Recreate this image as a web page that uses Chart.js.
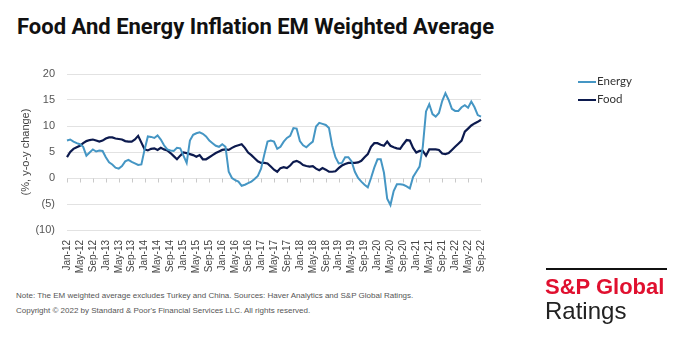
<!DOCTYPE html>
<html>
<head>
<meta charset="utf-8">
<title>Food And Energy Inflation EM Weighted Average</title>
<script src="https://cdn.jsdelivr.net/npm/chart.js@4.4.0/dist/chart.umd.min.js"></script>
<style>
  html, body { margin: 0; padding: 0; background: #fff; }
  body { width: 680px; height: 340px; position: relative; overflow: hidden; }
  h1 { position: absolute; left: 17px; top: 14px; margin: 0; font: bold 22px 'Roboto', sans-serif; color: #111; white-space: nowrap; }
  #wrap { position: absolute; left: 0; top: 50px; width: 680px; height: 230px; }
  .legend { position: absolute; left: 578px; font: 11.5px 'Lato', sans-serif; color: #333; line-height: 14px; }
  .legend i { display: inline-block; width: 18px; height: 2px; vertical-align: middle; margin-right: 1px; }
  .note { position: absolute; left: 16px; font: 8px 'Liberation Sans', sans-serif; color: #555; white-space: nowrap; }
  .rule { position: absolute; left: 546px; top: 268px; width: 121px; height: 2px; background: #111; }
  .brand { position: absolute; left: 545px; top: 274px; font: bold 22px 'Liberation Sans', sans-serif; color: #e0102f; white-space: nowrap; }
  .ratings { position: absolute; left: 545px; top: 297px; font: 24px 'Liberation Sans', sans-serif; color: #222; }
</style>
</head>
<body>
<h1>Food And Energy Inflation EM Weighted Average</h1>
<div id="wrap"><canvas id="chart"></canvas></div>
<div class="legend" style="top:74px"><i style="background:#4596c4"></i>Energy</div>
<div class="legend" style="top:92px"><i style="background:#0c1a4e"></i>Food</div>
<div class="note" style="top:291px">Note: The EM weighted average excludes Turkey and China. Sources: Haver Analytics and S&amp;P Global Ratings.</div>
<div class="note" style="top:306px">Copyright © 2022 by Standard &amp; Poor's Financial Services LLC. All rights reserved.</div>
<div class="rule"></div>
<div class="brand">S&amp;P Global</div>
<div class="ratings">Ratings</div>

<script>
// monthly series, Jan-12 .. Sep-22
const monthNames = ['Jan', 'Feb', 'Mar', 'Apr', 'May', 'Jun', 'Jul', 'Aug', 'Sep', 'Oct', 'Nov', 'Dec'];
const years = [12, 13, 14, 15, 16, 17, 18, 19, 20, 21, 22];

const energy = [
  7.2, 7.4, 7.0, 6.7, 6.5, 6.0, 4.3, 4.9, 5.5, 5.1, 5.3, 5.2,
  4.0, 3.0, 2.6, 2.0, 1.8, 2.3, 3.2, 3.5, 3.1, 2.8, 2.5, 2.6,
  5.5, 8.0, 7.9, 7.7, 8.2, 7.4, 6.3, 5.5, 5.3, 5.2, 5.8, 5.7,
  4.3, 2.9, 7.2, 8.3, 8.6, 8.8, 8.5, 8.0, 7.2, 6.7, 6.2, 6.0,
  6.5, 6.0, 1.2, 0.0, -0.4, -0.7, -1.5, -1.3, -1.0, -0.7, -0.2, 0.4,
  1.8, 4.5, 7.0, 7.2, 7.0, 5.6, 6.0, 7.0, 7.7, 8.1, 9.6, 9.5,
  7.1, 6.3, 5.9, 6.5, 7.0, 9.9, 10.6, 10.4, 10.2, 9.6, 6.2, 4.0,
  2.8, 2.9, 4.0, 4.0, 3.2, 1.2, 0.0, -0.7, -1.3, -1.8, 0.0, 2.0,
  3.6, 3.6, 1.0, -4.0, -5.2, -2.5, -1.2, -1.2, -1.3, -1.6, -2.0, 0.2,
  1.2, 2.2, 6.0, 12.8, 14.2, 12.3, 11.8, 12.5, 14.8, 16.3, 15.0, 13.3,
  12.9, 12.9, 13.6, 14.0, 13.5, 14.7, 13.6, 12.1, 11.8
];

const food = [
  4.0, 5.0, 5.6, 5.9, 6.2, 6.7, 7.1, 7.3, 7.4, 7.2, 7.0, 7.2,
  7.6, 7.8, 7.8, 7.6, 7.5, 7.4, 7.1, 7.0, 7.0, 7.4, 8.1, 6.8,
  5.5, 5.3, 5.6, 5.7, 5.4, 5.8, 5.5, 5.3, 4.8, 4.2, 3.6, 4.3,
  4.9, 4.8, 4.6, 4.4, 4.1, 4.4, 3.6, 3.6, 4.0, 4.4, 4.8, 5.1,
  5.4, 5.5, 5.4, 5.8, 6.1, 6.3, 6.5, 5.8, 4.9, 4.4, 3.8, 3.2,
  2.9, 2.9, 2.8, 2.2, 1.6, 1.2, 1.9, 2.1, 1.9, 2.4, 3.1, 3.3,
  3.0, 2.5, 2.3, 2.2, 2.3, 1.8, 1.5, 1.9, 1.6, 1.2, 1.2, 1.3,
  1.9, 2.4, 2.7, 2.9, 2.9, 2.9, 3.0, 3.3, 4.0, 4.6, 6.0, 6.7,
  6.7, 6.4, 6.2, 7.0, 6.2, 5.9, 5.7, 5.6, 6.5, 7.3, 7.2, 5.8,
  4.9, 5.2, 5.2, 4.3, 5.5, 5.5, 5.5, 5.4, 4.7, 4.6, 4.8, 5.4,
  6.0, 6.6, 7.2, 8.9, 9.5, 10.1, 10.5, 10.8, 11.2
];

const yTicks = [20, 15, 10, 5, 0, -5, -10];

const months = [];
years.forEach(yr => monthNames.forEach(m => months.push(`${m}-${yr}`)));
months.length = energy.length;

const ENERGY_COLOR = '#4596c4';
const FOOD_COLOR   = '#0c1a4e';
const GRID_COLOR   = '#e2e2e2';

// small tick marks hanging off the zero line at each labelled month
const zeroTicks = {
  id: 'zeroTicks',
  beforeDatasetsDraw(chart) {
    const { ctx, scales: { x, y } } = chart;
    const y0 = Math.round(y.getPixelForValue(0)) + 0.5;
    ctx.save();
    ctx.strokeStyle = '#c9c9c9';
    ctx.lineWidth = 1;
    ctx.beginPath();
    months.forEach((m, i) => {
      if (i % 4 !== 0) return;
      const px = Math.round(x.getPixelForValue(i)) + 0.5;
      ctx.moveTo(px, y0);
      ctx.lineTo(px, y0 + 4);
    });
    ctx.stroke();
    ctx.restore();
  }
};

new Chart(document.getElementById('chart'), {
  type: 'line',
  data: {
    labels: months,
    datasets: [
      { label: 'Energy', data: energy, borderColor: ENERGY_COLOR, borderWidth: 2, pointRadius: 0, tension: 0 },
      { label: 'Food',   data: food,   borderColor: FOOD_COLOR,   borderWidth: 2.2, pointRadius: 0, tension: 0 },
    ],
  },
  options: {
    responsive: true,
    maintainAspectRatio: false,
    animation: false,
    layout: { padding: { top: 24, right: 199, left: 0, bottom: 0 } },
    plugins: { legend: { display: false }, tooltip: { enabled: false } },
    scales: {
      x: {
        offset: false,
        grid: { display: false },
        border: { display: false },
        afterFit: (s) => { s.height = 50; },
        ticks: {
          autoSkip: false,
          maxRotation: 90,
          minRotation: 90,
          padding: 2,
          color: '#444',
          font: { family: "'Liberation Sans', sans-serif", size: 10 },
          callback: (v, i) => (i % 4 === 0 ? months[i] : ''),
        },
      },
      y: {
        min: -10,
        max: 20,
        afterFit: (s) => { s.width = 67; },
        afterBuildTicks: (s) => { s.ticks = yTicks.map(v => ({ value: v })); },
        grid: { color: GRID_COLOR, drawTicks: false },
        border: { display: false },
        ticks: {
          padding: 12,
          color: '#555',
          font: { family: "'Liberation Sans', sans-serif", size: 11 },
          callback: (v) => (v < 0 ? `(${-v})` : `${v}`),
        },
        title: {
          display: true,
          text: '(%, y-o-y change)',
          color: '#444',
          padding: { top: 19, bottom: 0 },
          font: { family: "'Liberation Sans', sans-serif", size: 11 },
        },
      },
    },
  },
  plugins: [zeroTicks],
});
</script>
</body>
</html>
